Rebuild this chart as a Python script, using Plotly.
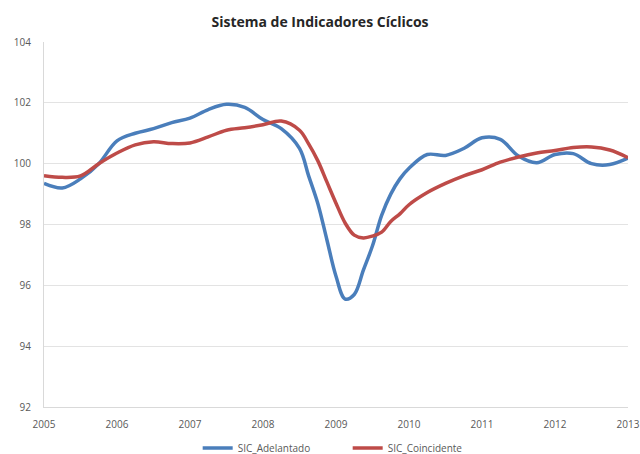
import plotly.graph_objects as go

dates = [2005.0, 2005.25, 2005.5, 2005.75, 2006.0, 2006.25, 2006.5, 2006.75,
         2007.0, 2007.25, 2007.5, 2007.75, 2008.0, 2008.25, 2008.5, 2008.625,
         2008.75, 2008.875, 2009.0, 2009.125, 2009.25, 2009.375, 2009.5, 2009.625,
         2009.75, 2009.875, 2010.0, 2010.25, 2010.5, 2010.75, 2011.0, 2011.25,
         2011.5, 2011.75, 2012.0, 2012.25, 2012.5, 2012.75, 2013.0]

sic_adelantado = [99.35, 99.2, 99.5, 100.0, 100.75, 101.0, 101.15, 101.35,
                  101.5, 101.78, 101.95, 101.85, 101.45, 101.15, 100.5, 99.6,
                  98.7, 97.5, 96.3, 95.55, 95.7, 96.5, 97.3, 98.3,
                  99.0, 99.5, 99.85, 100.3, 100.27, 100.5, 100.85, 100.8,
                  100.25, 100.03, 100.3, 100.33, 100.0, 99.97, 100.18]

sic_coincidente = [99.6, 99.55, 99.6, 100.0, 100.35, 100.62, 100.72, 100.66,
                   100.68, 100.88, 101.1, 101.18, 101.28, 101.4, 101.1, 100.65,
                   100.1, 99.4, 98.7, 98.05, 97.65, 97.56, 97.62, 97.75,
                   98.1, 98.35, 98.65, 99.05, 99.35, 99.6, 99.8, 100.05,
                   100.22, 100.35, 100.43, 100.53, 100.55, 100.45, 100.2]

year_ticks = [2005, 2006, 2007, 2008, 2009, 2010, 2011, 2012, 2013]
y_ticks = [92, 94, 96, 98, 100, 102, 104]

fig = go.Figure()
fig.add_trace(go.Scatter(x=dates, y=sic_adelantado, mode="lines", name="SIC_Adelantado",
                         line=dict(color="#4a7ebb", width=3.5, shape="spline", smoothing=1.0)))
fig.add_trace(go.Scatter(x=dates, y=sic_coincidente, mode="lines", name="SIC_Coincidente",
                         line=dict(color="#be4b48", width=3.5, shape="spline", smoothing=1.0)))

fig.update_layout(
    width=640, height=454,
    margin=dict(l=44, r=12, t=42, b=47, autoexpand=False),
    paper_bgcolor="white", plot_bgcolor="white",
    font=dict(family="Open Sans, Liberation Sans, sans-serif", color="#595959", size=10),
    title=dict(text="<b>Sistema de Indicadores Cíclicos</b>", x=0.5, xanchor="center",
               y=0.952, yanchor="middle", font=dict(size=14, color="#262626")),
    showlegend=True,
    legend=dict(orientation="h", x=0.52, xanchor="center", y=-0.112,
                yanchor="middle", font=dict(size=10, color="#595959"), itemwidth=30,
                entrywidth=105, tracegroupgap=0),
    xaxis=dict(range=[2005, 2013], tickvals=year_ticks, ticktext=[str(t) for t in year_ticks],
               showgrid=False, showline=True, linecolor="#d9d9d9", linewidth=1,
               ticks="", zeroline=False, ticklabelstandoff=8,
               tickfont=dict(size=10, color="#595959")),
    yaxis=dict(range=[92, 104], tickvals=y_ticks, showgrid=True, gridcolor="#e3e3e3",
               gridwidth=1, showline=True, linecolor="#d9d9d9", linewidth=1,
               ticks="", zeroline=False, ticklabelstandoff=10,
               tickfont=dict(size=10, color="#595959")),
)

fig.write_html("out.html", config={"displayModeBar": False},
               post_script="document.body.style.margin='0';")
